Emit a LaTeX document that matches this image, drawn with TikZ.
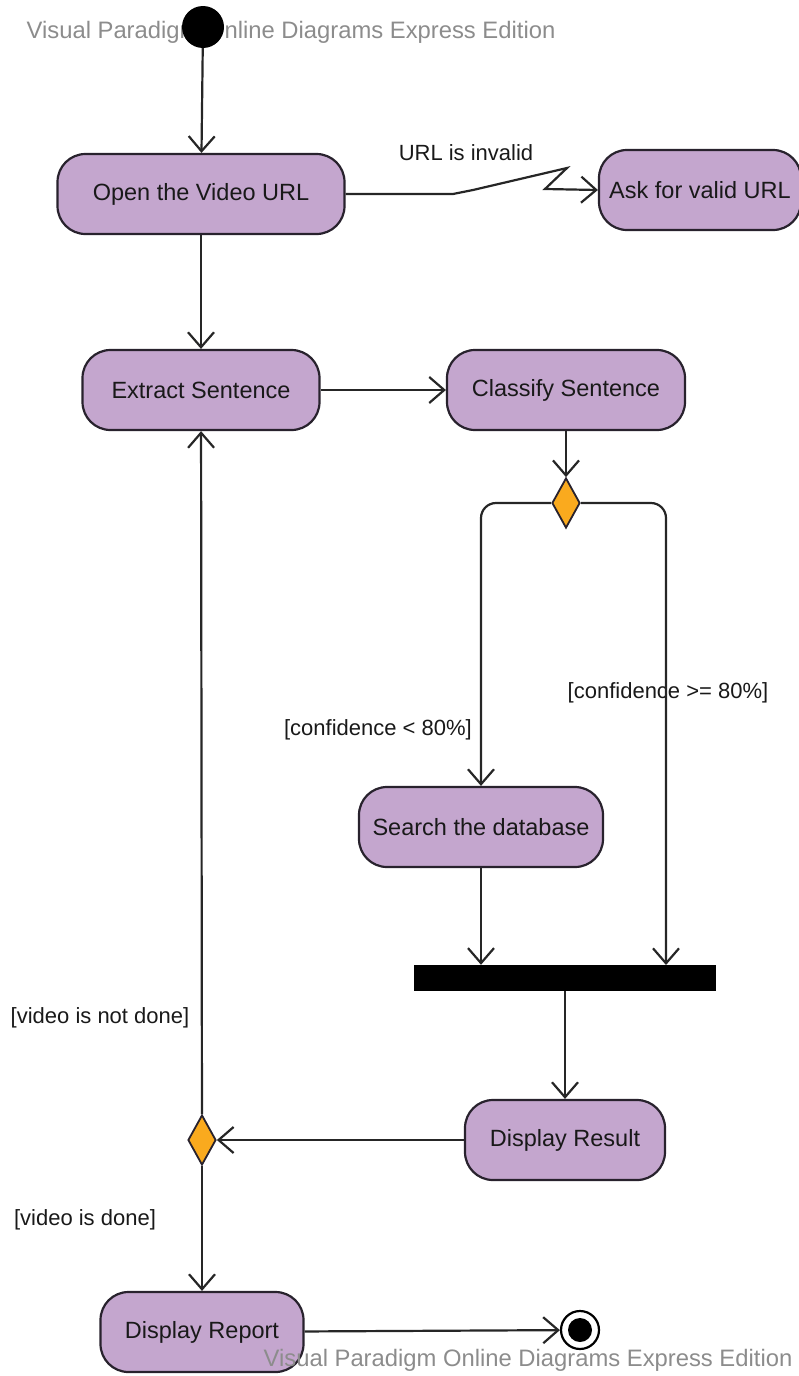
\documentclass[tikz,border=0pt]{standalone}
\usepackage{fontspec}
\setmainfont{Liberation Sans}
\usetikzlibrary{arrows.meta,shapes.geometric}
\definecolor{actpurple}{RGB}{196,166,206}
\definecolor{actline}{RGB}{40,34,45}
\definecolor{decorange}{RGB}{250,170,30}
\definecolor{markgray}{RGB}{140,140,140}

\begin{document}
\begin{tikzpicture}[
  x=1pt, y=-1pt,
  act/.style={rectangle, draw=actline, fill=actpurple, rounded corners=28pt,
              line width=2.2pt, minimum height=80pt, inner sep=0pt,
              font=\fontsize{23.5}{27}\selectfont, text=black!90},
  dec/.style={diamond, draw=actline, fill=decorange, line width=1.8pt,
              minimum width=28pt, minimum height=50pt, inner sep=0pt},
  guard/.style={font=\fontsize{22}{26}\selectfont, text=black!90},
  wmark/.style={font=\fontsize{23.8}{27}\selectfont, text=markgray},
  arr/.style={-{Straight Barb[length=15pt,width=26pt]}, line width=2.2pt, draw=black!85}
]
\useasboundingbox (0,0) rectangle (799,1376);

% watermark under the start node
\node[wmark] (marktop) at (291,32) {Visual Paradigm Online Diagrams Express Edition};

\node[circle, fill=black, minimum size=42pt, inner sep=0pt] (start) at (203,27) {};
\node[act, minimum width=287pt] (openurl) at (201,194) {Open the Video URL};
\node[act, minimum width=202pt] (askurl) at (700,190) {Ask for valid URL};
\node[act, minimum width=237pt] (extract) at (201,390) {Extract Sentence};
\node[act, minimum width=238pt] (classify) at (566,390) {Classify Sentence};
\node[dec] (conf) at (566,503) {};
\node[act, minimum width=244pt] (search) at (481,827) {Search the database};
\node[rectangle, fill=black, minimum width=302pt, minimum height=26pt, inner sep=0pt] (join) at (565,978) {};
\node[act, minimum width=200pt] (result) at (565,1140) {Display Result};
\node[dec] (done) at (202,1140) {};
\node[act, minimum width=203pt] (report) at (202,1332) {Display Report};
\node[circle, draw=black, fill=white, line width=2.2pt, minimum size=38pt, inner sep=0pt] (final) at (580,1330) {};
\node[circle, fill=black, minimum size=24pt, inner sep=0pt] at (final) {};

\coordinate (joinR) at (666,965);

% labels
\node[guard] (invalid) at (466,153) {URL is invalid};
\node[guard] (low) at (378,730) {[confidence < 80\%]};
\node[guard] (high) at (668,693) {[confidence >= 80\%]};
\node[guard] (notdone) at (100,1018) {[video is not done]};
\node[guard] (isdone) at (85,1220) {[video is done]};

\draw[arr] (start) -- (openurl);
\draw[arr] (openurl.east) -- (453,194) -- (473,190) -- (567,168) -- (545,189) -- (askurl.west);
\draw[arr] (openurl) -- (extract);
\draw[arr] (extract) -- (classify);
\draw[arr] (classify) -- (conf);
\draw[arr, rounded corners=15pt] (conf.west) -| (search.north);
\draw[arr, rounded corners=15pt] (conf.east) -| (joinR);
\draw[arr] (search.south) -- (search.south |- join.north);
\draw[arr] (join) -- (result);
\draw[arr] (result) -- (done);
\draw[arr] (done) -- (extract);
\draw[arr] (done) -- (report);
\draw[arr] (report) -- (final);

% watermark over the last node
\node[wmark] (markbottom) at (528,1360) {Visual Paradigm Online Diagrams Express Edition};
\end{tikzpicture}
\end{document}
